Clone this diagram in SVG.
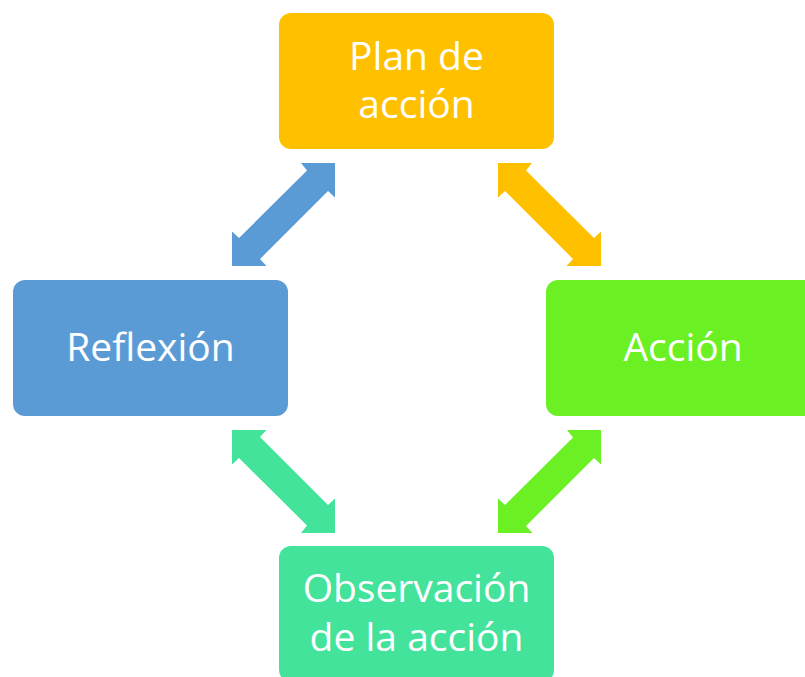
<svg xmlns="http://www.w3.org/2000/svg" xmlns:xlink="http://www.w3.org/1999/xlink" width="805" height="677" viewBox="0 0 805 677">
<style>
.lbl{font-family:"Open Sans","Noto Sans","Liberation Sans",sans-serif;font-size:39px;fill:#ffffff;text-anchor:middle}
</style>
<defs>
<polygon id="arr" points="103,0 69,0 75,7.5 7,75 0,68.5 0,103 34.5,103 28,96 96,28 103,34.5"/>
</defs>
<rect width="805" height="677" fill="#ffffff"/>
<g id="connectors">
<use xlink:href="#arr" transform="translate(232,163)" fill="#5B9BD5"/>
<use xlink:href="#arr" transform="translate(601,163) scale(-1,1)" fill="#FFC000"/>
<use xlink:href="#arr" transform="translate(232,533) scale(1,-1)" fill="#44E39B"/>
<use xlink:href="#arr" transform="translate(498,430)" fill="#6BF024"/>
</g>
<g id="plan">
<rect x="279" y="13" width="275" height="136" rx="12" fill="#FFC000"/>
<text class="lbl" x="416.5" y="70">Plan de</text>
<text class="lbl" x="416.5" y="118">acción</text>
</g>
<g id="accion">
<rect x="546" y="280" width="275" height="136" rx="12" fill="#6BF024"/>
<text class="lbl" x="683" y="361">Acción</text>
</g>
<g id="observacion">
<rect x="279" y="546" width="275" height="136" rx="12" fill="#44E39B"/>
<text class="lbl" x="416.5" y="602">Observación</text>
<text class="lbl" x="416.5" y="651">de la acción</text>
</g>
<g id="reflexion">
<rect x="13" y="280" width="275" height="136" rx="12" fill="#5B9BD5"/>
<text class="lbl" x="150.5" y="361">Reflexión</text>
</g>
</svg>
